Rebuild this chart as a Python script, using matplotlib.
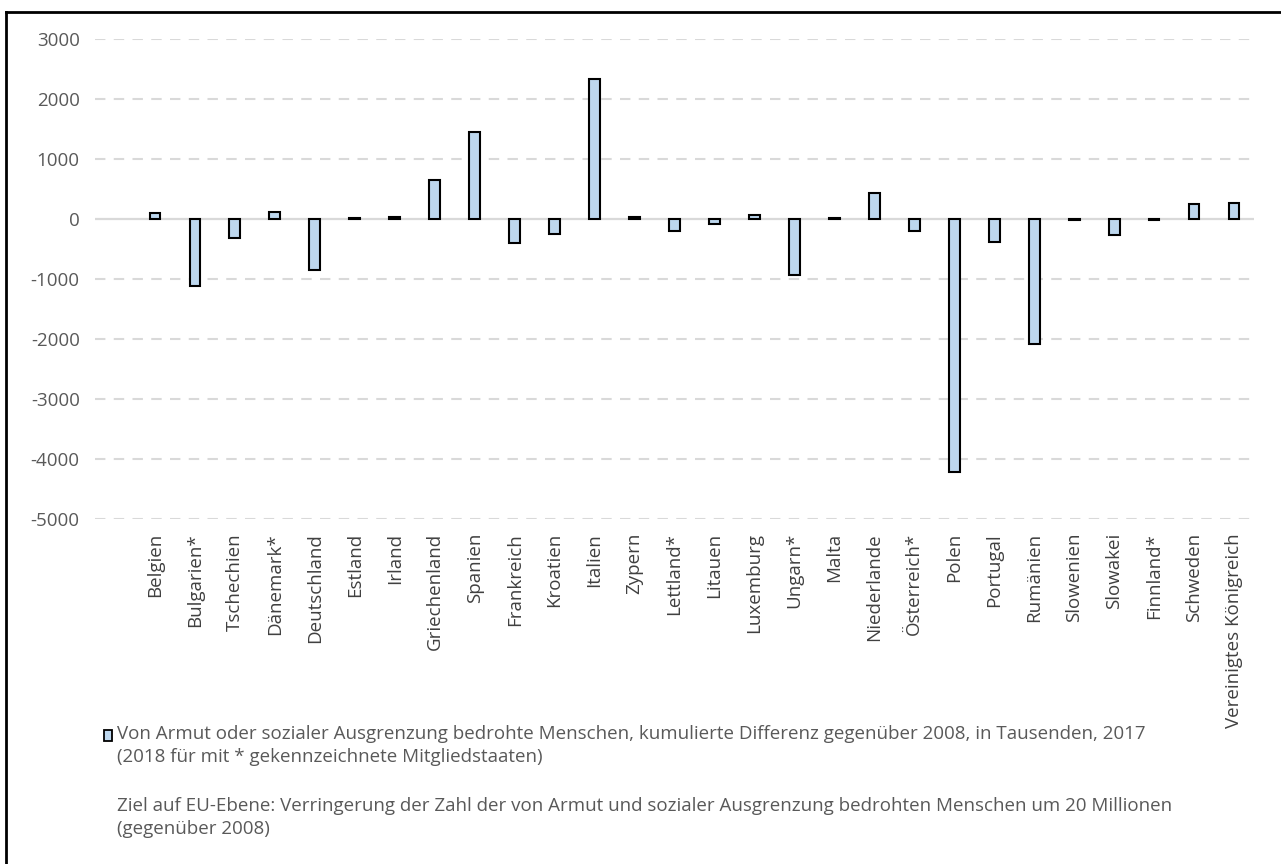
import matplotlib
matplotlib.use("Agg")
import matplotlib.pyplot as plt
from matplotlib.patches import Rectangle
from matplotlib.lines import Line2D

countries = ["Belgien", "Bulgarien*", "Tschechien", "Dänemark*", "Deutschland", "Estland",
             "Irland", "Griechenland", "Spanien", "Frankreich", "Kroatien", "Italien",
             "Zypern", "Lettland*", "Litauen", "Luxemburg", "Ungarn*", "Malta",
             "Niederlande", "Österreich*", "Polen", "Portugal", "Rumänien", "Slowenien",
             "Slowakei", "Finnland*", "Schweden", "Vereinigtes Königreich"]
values = [100, -1120, -320, 110, -850, 15,
          30, 650, 1450, -400, -245, 2330,
          30, -200, -90, 60, -930, 20,
          440, -200, -4220, -380, -2080, -15,
          -270, -15, 245, 265]
yticks = [3000, 2000, 1000, 0, -1000, -2000, -3000, -4000, -5000]

legend_text = ("Von Armut oder sozialer Ausgrenzung bedrohte Menschen, kumulierte Differenz gegenüber 2008, in Tausenden, 2017\n"
               "(2018 für mit * gekennzeichnete Mitgliedstaaten)")
note_text = ("Ziel auf EU-Ebene: Verringerung der Zahl der von Armut und sozialer Ausgrenzung bedrohten Menschen um 20 Millionen\n"
             "(gegenüber 2008)")

W, H = 1281, 864
fig = plt.figure(figsize=(W / 100, H / 100), dpi=100)
fig.patch.set_facecolor("white")
ax = fig.add_axes([95 / W, 1 - 519 / H, (1254 - 95) / W, (519 - 39) / H])

x = list(range(len(countries)))
ax.bar(x, values, width=0.27, color="#BDD7EE", edgecolor="black", linewidth=1.5, zorder=3)

ax.set_xlim(-1.5, len(countries) - 0.5)
ax.set_ylim(-5000, 3000)
ax.set_yticks(yticks)
ax.set_yticklabels([str(v) for v in yticks], fontsize=13.5, color="#595959", family="Open Sans")
for v in yticks:
    if v == 0:
        ax.axhline(v, color="#D9D9D9", linewidth=1.6, zorder=2)
    else:
        ax.axhline(v, color="#D9D9D9", linewidth=1.5, linestyle=(0, (5, 4)), zorder=1)

ax.set_xticks(x)
ax.set_xticklabels(countries, rotation=90, fontsize=13.5, color="#404040", family="Open Sans",
                   va="top", ha="center")
ax.tick_params(axis="x", length=0, pad=10)
ax.tick_params(axis="y", length=0, pad=11)
for s in ax.spines.values():
    s.set_visible(False)

# legend
fig.patches.append(Rectangle((104 / W, 1 - 741 / H), 8 / W, 11 / H, transform=fig.transFigure,
                             facecolor="#BDD7EE", edgecolor="black", linewidth=1.3))
fig.text(117 / W, 1 - 725 / H, legend_text, fontsize=13.5, color="#595959", family="Open Sans",
         va="top", ha="left", linespacing=1.38)
fig.text(117 / W, 1 - 797 / H, note_text, fontsize=13.5, color="#595959", family="Open Sans",
         va="top", ha="left", linespacing=1.38)

# outer frame
fig.add_artist(Line2D([6 / W, 6 / W], [0, 1 - 12 / H], transform=fig.transFigure, color="black", linewidth=2))
fig.add_artist(Line2D([6 / W, 1], [1 - 12 / H, 1 - 12 / H], transform=fig.transFigure, color="black", linewidth=2))

fig.savefig("out.png", dpi=100)
